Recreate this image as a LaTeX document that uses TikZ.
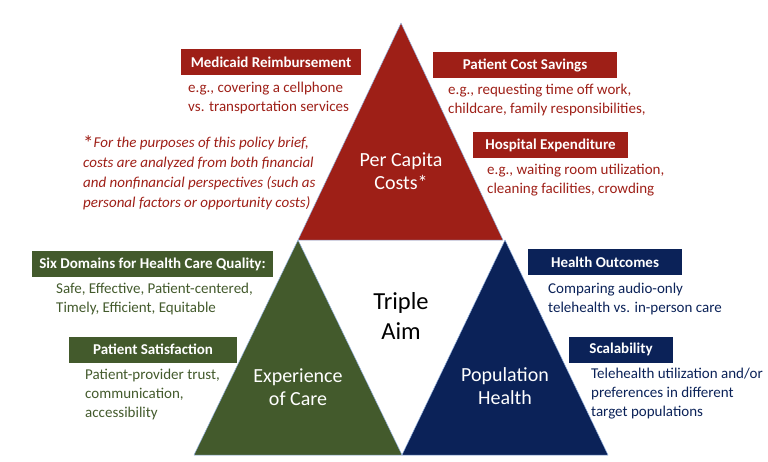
\documentclass[tikz,border=0pt]{standalone}
\usepackage{fontspec}
\setmainfont{Carlito}
\definecolor{costred}{RGB}{158,31,23}
\definecolor{caregreen}{RGB}{67,90,44}
\definecolor{popblue}{RGB}{11,34,88}
\definecolor{edgeblue}{RGB}{150,180,225}

\begin{document}
\begin{tikzpicture}[x=1pt, y=-1pt, line join=round,
	tag/.style={fill=#1, text=white, inner sep=0pt, minimum height=26pt,
		font=\fontsize{15}{17}\selectfont\bfseries},
	note/.style={text=#1, inner sep=0pt, anchor=west, align=left,
		font=\fontsize{15}{19}\selectfont},
	aim/.style={text=#1, inner sep=0pt, align=center,
		font=\fontsize{20}{23}\selectfont},
	wedge/.style={fill=#1, draw=edgeblue, line width=0.5pt}]
	
	\useasboundingbox (0,0) rectangle (768,461);
	
	%========================
	% Triangles
	%========================
	\coordinate (costL) at (298,240);
	\coordinate (costR) at (503,240);
	\coordinate (costT) at (401,23);
	\coordinate (careL) at (194,455);
	\coordinate (midB)  at (402,455);
	\coordinate (popR)  at (608,455);
	\coordinate (careT) at (298,240);
	\coordinate (popT)  at (505,240);
	
	\draw[wedge=costred]   (costL) -- (costR) -- (costT) -- cycle;
	\draw[wedge=caregreen] (careL) -- (midB) -- (careT) -- cycle;
	\draw[wedge=popblue]   (midB) -- (popR) -- (popT) -- cycle;
	
	% labels inside
	\node[aim=white] (costs) at (401,171) {Per Capita\\Costs*};
	\node[aim=white] (care) at (298,387) {Experience\\of Care};
	\node[aim=white] (pop) at (505,386) {Population\\Health};
	\node[aim=black, font=\fontsize{24.5}{30}\selectfont] (triple) at (401,316) {Triple\\Aim};
	
	%========================
	% Costs (top)
	%========================
	\node[tag=costred, minimum width=180pt] (medicaid) at (271,62) {Medicaid Reimbursement};
	\node[note=costred] (medicaidTxt) at (188,98) {e.g., covering a cellphone\\vs. transportation services};
	
	\node[tag=costred, minimum width=184pt] (savings) at (525,65) {Patient Cost Savings};
	\node[note=costred] (savingsTxt) at (448,100) {e.g., requesting time off work,\\childcare, family responsibilities,};
	
	\node[tag=costred, minimum width=155pt] (hospital) at (550.5,145) {Hospital Expenditure};
	\node[note=costred] (hospitalTxt) at (487,180) {e.g., waiting room utilization,\\cleaning facilities, crowding};
	
	% footnote
	\node[note=costred, font=\fontsize{15}{20}\selectfont\itshape] (footnote) at (83,173)
	{{\upshape\fontsize{21}{20}\selectfont\raisebox{-3pt}{*}}For the purposes of this policy brief,\\
		costs are analyzed from both financial\\
		and nonfinancial perspectives (such as\\
		personal factors or opportunity costs)};
	
	%========================
	% Experience of care (left)
	%========================
	\node[tag=caregreen, minimum width=241pt] (domains) at (152.5,264) {Six Domains for Health Care Quality:};
	\node[note=caregreen] (domainsTxt) at (56,298.5) {Safe, Effective, Patient-centered,\\Timely, Efficient, Equitable};
	
	\node[tag=caregreen, minimum width=168pt] (satisfaction) at (153,349.5) {Patient Satisfaction};
	\node[note=caregreen] (satisfactionTxt) at (85,394) {Patient-provider trust,\\communication,\\accessibility};
	
	%========================
	% Population health (right)
	%========================
	\node[tag=popblue, minimum width=154pt] (outcomes) at (605,262) {Health Outcomes};
	\node[note=popblue] (outcomesTxt) at (548,298.5) {Comparing audio-only\\telehealth vs. in-person care};
	
	\node[tag=popblue, minimum width=104pt] (scale) at (621,349.5) {Scalability};
	\node[note=popblue] (scaleTxt) at (591,394) {Telehealth utilization and/or\\preferences in different\\target populations};
	
\end{tikzpicture}
\end{document}
